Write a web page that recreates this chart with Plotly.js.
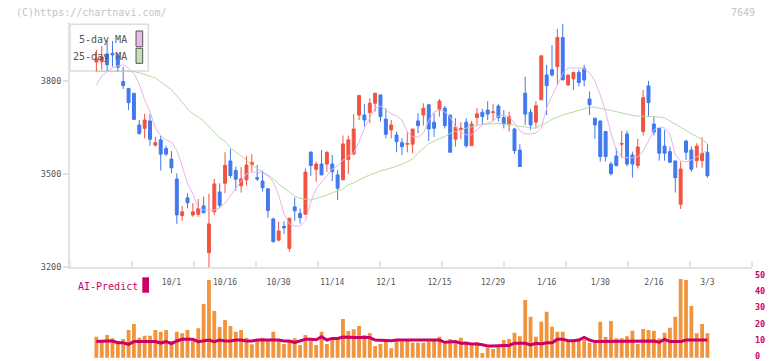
<!DOCTYPE html>
<html><head><meta charset="utf-8">
<script src="https://cdn.plot.ly/plotly-3.0.1.min.js"></script>
<style>html,body{margin:0;padding:0;background:#fff;}#chart{width:772px;height:361px;}</style>
</head><body><div id="chart"></div>
<script>
// Trading days (2025/9/9 - 2026/3/3)
const dates = ['9/9','9/10','9/11','9/12','9/16','9/17','9/18','9/19','9/22','9/24','9/25','9/26','9/29','9/30',
'10/1','10/2','10/3','10/6','10/7','10/8','10/9','10/10','10/14','10/15','10/16','10/17','10/20','10/21','10/22','10/23','10/24','10/27','10/28','10/29','10/30','10/31',
'11/4','11/5','11/6','11/7','11/10','11/11','11/12','11/13','11/14','11/17','11/18','11/19','11/20','11/21','11/25','11/26','11/27','11/28',
'12/1','12/2','12/3','12/4','12/5','12/8','12/9','12/10','12/11','12/12','12/15','12/16','12/17','12/18','12/19','12/22','12/23','12/24','12/25','12/26','12/29','12/30',
'1/5','1/6','1/7','1/8','1/9','1/13','1/14','1/15','1/16','1/19','1/20','1/21','1/22','1/23','1/26','1/27','1/28','1/29','1/30',
'2/2','2/3','2/4','2/5','2/6','2/9','2/10','2/12','2/13','2/16','2/17','2/18','2/19','2/20','2/24','2/25','2/26','2/27','3/2','3/3'];

const openP = [3861,3862,3887,3889,3881,3798,3776,3760,3658,3647,
3671,3593,3610,3582,3548,3484,3366,3423,3368,3370,
3397,3246,3378,3442,3470,3542,3511,3462,3481,3530,
3488,3477,3452,3355,3287,3331,3260,3394,3373,3370,
3570,3515,3532,3532,3532,3497,3481,3547,3564,3690,
3690,3698,3728,3755,3677,3642,3626,3601,3596,3596,
3671,3690,3723,3667,3709,3712,3690,3612,3644,3667,
3591,3682,3699,3706,3698,3719,3682,3658,3645,3577,
3760,3699,3667,3739,3819,3836,3846,3940,3787,3807,
3827,3841,3742,3680,3671,3637,3532,3558,3596,3629,
3561,3527,3637,3784,3661,3647,3590,3572,3542,3402,
3606,3577,3543,3543,3569];
const highP = [3900,3913,3932,3929,3889,3845,3777,3761,3674,3694,
3694,3620,3624,3591,3574,3502,3397,3438,3406,3419,
3427,3436,3484,3470,3570,3581,3524,3522,3558,3564,
3529,3511,3454,3359,3346,3348,3359,3424,3389,3518,
3574,3540,3577,3575,3561,3513,3624,3624,3693,3755,
3725,3744,3762,3755,3712,3674,3637,3615,3637,3645,
3696,3728,3723,3696,3742,3719,3690,3680,3667,3680,
3671,3712,3710,3735,3725,3725,3706,3701,3649,3596,
3814,3710,3735,3881,3852,3916,3968,3984,3819,3830,
3836,3852,3766,3680,3671,3637,3539,3583,3639,3639,
3572,3613,3771,3800,3687,3647,3642,3588,3542,3540,
3610,3588,3599,3618,3596];
const lowP = [3829,3836,3830,3846,3828,3774,3706,3675,3626,3615,
3591,3588,3511,3558,3502,3339,3349,3389,3362,3362,
3374,3200,3368,3391,3438,3487,3446,3440,3462,3507,
3477,3443,3359,3278,3282,3306,3249,3349,3340,3368,
3494,3475,3497,3507,3477,3416,3481,3500,3561,3674,
3653,3664,3701,3669,3615,3615,3570,3561,3570,3567,
3631,3656,3606,3620,3685,3647,3570,3588,3613,3585,
3591,3658,3658,3674,3669,3669,3647,3637,3564,3524,
3658,3642,3647,3739,3690,3814,3787,3803,3784,3771,
3782,3782,3690,3613,3540,3540,3495,3524,3552,3524,
3488,3518,3624,3685,3624,3543,3543,3536,3440,3387,
3545,3507,3520,3520,3488];
const closeP = [3871,3877,3852,3884,3844,3785,3730,3676,3631,3674,
3612,3601,3564,3564,3520,3368,3378,3407,3378,3389,
3375,3339,3468,3399,3528,3495,3483,3484,3529,3537,
3484,3456,3382,3282,3316,3326,3357,3381,3359,3506,
3527,3532,3497,3569,3507,3454,3597,3610,3645,3753,
3674,3728,3760,3685,3628,3658,3604,3588,3598,3645,
3656,3712,3645,3647,3735,3656,3570,3651,3647,3591,
3661,3694,3685,3693,3700,3682,3661,3685,3575,3524,
3693,3658,3720,3881,3785,3819,3940,3803,3819,3827,
3795,3803,3723,3658,3556,3556,3501,3527,3598,3532,
3532,3587,3746,3730,3635,3567,3567,3538,3488,3516,
3570,3515,3590,3567,3494];

const ma5 = [3787,3816,3829,3842,3848,3852,3842,3823,3790,3739,
3700,3648,3623,3610,3603,3577,3526,3468,3436,3390,
3384,3384,3384,3390,3406,3429,3452,3477,3500,3506,
3506,3503,3494,3474,3432,3371,3339,3332,3332,3348,
3410,3452,3474,3494,3516,3526,3545,3558,3568,3603,
3648,3681,3713,3719,3706,3694,3687,3674,3635,3619,
3619,3632,3671,3700,3706,3700,3684,3652,3635,3626,
3626,3642,3658,3664,3671,3687,3690,3684,3664,3639,
3629,3629,3632,3648,3713,3752,3787,3823,3842,3842,
3842,3839,3826,3800,3755,3700,3632,3577,3555,3552,
3552,3555,3574,3606,3642,3652,3648,3629,3561,3542,
3539,3545,3555,3568,3574];
const ma25 = [3830,3831,3831,3831,3831,3831,3830,3830,3826,3821,
3816,3810,3797,3784,3771,3752,3729,3710,3694,3684,
3671,3652,3635,3616,3606,3584,3571,3558,3545,3529,
3516,3506,3497,3484,3468,3455,3439,3429,3421,3418,
3416,3421,3426,3432,3439,3445,3452,3465,3471,3481,
3490,3497,3503,3510,3514,3519,3526,3531,3539,3548,
3568,3584,3597,3606,3613,3621,3631,3637,3640,3648,
3652,3656,3660,3661,3663,3663,3661,3660,3658,3653,
3652,3648,3648,3658,3665,3676,3684,3690,3695,3700,
3705,3710,3715,3715,3712,3710,3705,3701,3697,3692,
3689,3687,3686,3686,3686,3684,3681,3671,3661,3652,
3642,3632,3621,3610,3598];

const aiBars = [13.1,11.0,14.1,12.1,10.4,11.6,17.2,21.0,12.4,13.7,
13.7,17.2,16.2,17.2,10.4,16.2,15.2,17.2,10.4,18.3,
33.4,48.3,29.0,19.1,23.4,19.7,16.2,17.2,12.4,8.3,
11.0,12.4,10.8,16.2,10.8,8.5,10.0,12.1,7.9,14.1,
10.8,7.9,16.2,8.5,11.6,12.7,24.1,16.6,17.7,19.7,
14.1,15.4,7.3,8.5,10.0,5.8,11.0,10.0,11.0,9.3,
9.3,9.3,10.0,11.0,13.1,9.0,11.6,9.3,12.4,10.0,
7.9,9.6,2.9,6.2,5.4,7.9,11.0,11.6,15.5,13.4,
35.9,25.5,13.1,22.4,28.6,19.3,16.2,16.2,10.2,11.0,
11.6,11.0,9.3,9.3,22.4,12.8,22.8,12.1,12.1,13.3,
16.8,8.5,17.8,17.2,16.8,12.0,15.5,18.7,25.5,49.0,
48.3,32.2,15.2,21.0,15.2];
const aiLine = [10.0,10.4,10.4,10.4,9.3,9.3,8.3,10.0,10.0,10.0,
10.0,10.0,9.1,10.0,8.7,10.4,11.4,11.4,11.4,10.0,
10.5,11.0,10.0,11.0,10.4,10.4,11.0,11.0,10.4,10.4,
11.0,11.0,11.0,11.0,11.0,10.4,10.4,9.5,10.4,11.4,
11.4,11.2,13.1,11.0,12.0,12.0,12.9,12.5,12.5,12.5,
12.5,12.5,11.0,10.8,10.4,10.6,11.0,11.0,11.0,11.0,
11.4,11.4,11.4,11.0,11.0,9.6,10.0,10.0,9.0,9.0,
8.5,8.5,8.0,7.3,7.3,7.6,7.6,7.6,9.0,9.0,
9.0,8.0,9.0,8.5,9.3,9.3,11.4,11.4,10.6,10.6,
11.0,12.6,11.0,10.0,10.0,10.0,10.4,10.4,10.4,10.4,
10.4,10.4,10.4,10.4,10.4,9.6,11.4,10.0,10.0,10.0,
11.0,11.0,11.0,11.0,11.0];

const tickLabels = ['10/1','10/16','10/30','11/14','12/1','12/15','12/29','1/16','1/30','2/16','3/3'];
const priceTicks = [3200,3500,3800];
const aiTicks = [0,10,20,30,40,50];

const idx = dates.map((d,i)=>i);
const tickIdx = tickLabels.map(t=>dates.indexOf(t));
const xr = [-4.925, 122.31];
const gridTicks = Array.from({length:12},(_,k)=> xr[0] + k*(xr[1]-xr[0])/11);

const RED='#f05441', BLUE='#4079ef', MONO='DejaVu Sans Mono';

const traces = [
  {type:'scatter', mode:'lines', x:idx, y:ma25, xaxis:'x', yaxis:'y',
   line:{color:'#b5dba5', width:1}, hoverinfo:'skip', showlegend:false},
  {type:'scatter', mode:'lines', x:idx, y:ma5, xaxis:'x', yaxis:'y',
   line:{color:'#e9b5ea', width:1}, hoverinfo:'skip', showlegend:false},
  {type:'candlestick', x:idx, open:openP, high:highP, low:lowP, close:closeP,
   xaxis:'x', yaxis:'y',
   increasing:{line:{color:RED, width:1}, fillcolor:RED},
   decreasing:{line:{color:BLUE, width:1}, fillcolor:BLUE},
   whiskerwidth:0, hoverinfo:'skip', showlegend:false},
  {type:'bar', x:idx, y:aiBars, xaxis:'x', yaxis:'y2',
   marker:{color:'#f0953e', line:{width:0}}, hoverinfo:'skip', showlegend:false},
  {type:'scatter', mode:'lines', x:idx, y:aiLine, xaxis:'x', yaxis:'y2',
   line:{color:'#cc0066', width:3}, hoverinfo:'skip', showlegend:false}
];

const layout = {
  width:772, height:361,
  margin:{l:70, r:20, t:22, b:2},
  paper_bgcolor:'#fff', plot_bgcolor:'rgba(0,0,0,0)',
  showlegend:false, bargap:0.29, boxgap:0.22,
  xaxis:{range:xr, domain:[0,1], anchor:'y', fixedrange:true,
    rangeslider:{visible:false},
    showgrid:false, zeroline:false,
    showline:true, linecolor:'#e2e2e2', linewidth:2,
    tickmode:'array', tickvals:tickIdx, ticktext:tickLabels,
    ticks:'', ticklabelstandoff:6,
    tickfont:{family:MONO, size:8, color:'#555'},
    minor:{tickmode:'array', tickvals:gridTicks, ticks:'inside', ticklen:6, tickwidth:2, tickcolor:'#e2e2e2', showgrid:false}
  },
  yaxis:{domain:[0.2730,1], range:[3200,3990], fixedrange:true,
    showgrid:false, zeroline:false,
    showline:true, linecolor:'#e2e2e2', linewidth:2,
    tickmode:'array', tickvals:priceTicks, ticktext:priceTicks.map(String),
    ticks:'outside', ticklen:5, tickwidth:2, tickcolor:'#e2e2e2',
    tickfont:{family:MONO, size:8.5, color:'#555'}
  },
  yaxis2:{domain:[0,0.2424], range:[-0.81,50], anchor:'x', side:'right', fixedrange:true,
    showgrid:false, zeroline:false, showline:false,
    tickmode:'array', tickvals:aiTicks, ticktext:aiTicks.map(String),
    ticks:'', ticklabelstandoff:2, ticklabelshift:-2, ticklabeloverflow:'allow',
    tickfont:{family:MONO, size:8.5, color:'#cc0066', weight:'bold'}
  },
  shapes:[
    {type:'rect', xref:'paper', yref:'paper', x0:0, x1:0.1148, y0:0.8546, y1:0.9932,
     line:{color:'#dddddd', width:1.5}, fillcolor:'rgba(255,255,255,0)', layer:'below'},
    {type:'rect', xref:'paper', yref:'paper', x0:0.0968, x1:0.1066, y0:0.9267, y1:0.9733,
     line:{color:'#555', width:1}, fillcolor:'#ebb9eb', layer:'above'},
    {type:'rect', xref:'paper', yref:'paper', x0:0.0968, x1:0.1066, y0:0.8774, y1:0.922,
     line:{color:'#555', width:1}, fillcolor:'#c3e3b6', layer:'above'},
    {type:'rect', xref:'paper', yref:'paper', x0:0.106, x1:0.1158, y0:0.1967, y1:0.2424,
     line:{width:0}, fillcolor:'#cc0066', layer:'above'}
  ],
  annotations:[
    {xref:'paper', yref:'paper', x:0.0870, y:0.9466, xanchor:'right', yanchor:'middle', showarrow:false,
     text:'5-day MA', font:{family:MONO, size:10, color:'#555'}},
    {xref:'paper', yref:'paper', x:0.0870, y:0.897, xanchor:'right', yanchor:'middle', showarrow:false,
     text:'25-day MA', font:{family:MONO, size:10, color:'#555'}},
    {xref:'paper', yref:'paper', x:0.0088, y:0.2166, xanchor:'left', yanchor:'middle', showarrow:false,
     text:'AI-Predict', font:{family:MONO, size:10, color:'#cc0066'}},
    {xref:'paper', yref:'paper', x:-0.0821, y:1.0288, xanchor:'left', yanchor:'middle', showarrow:false,
     text:'(C)https://chartnavi.com/', font:{family:MONO, size:10, color:'#c4c4c4'}},
    {xref:'paper', yref:'paper', x:1.0073, y:1.0288, xanchor:'right', yanchor:'middle', showarrow:false,
     text:'7649', font:{family:MONO, size:10, color:'#c4c4c4'}}
  ]
};

Plotly.newPlot('chart', traces, layout, {displayModeBar:false, staticPlot:true});
</script>
</body></html>
